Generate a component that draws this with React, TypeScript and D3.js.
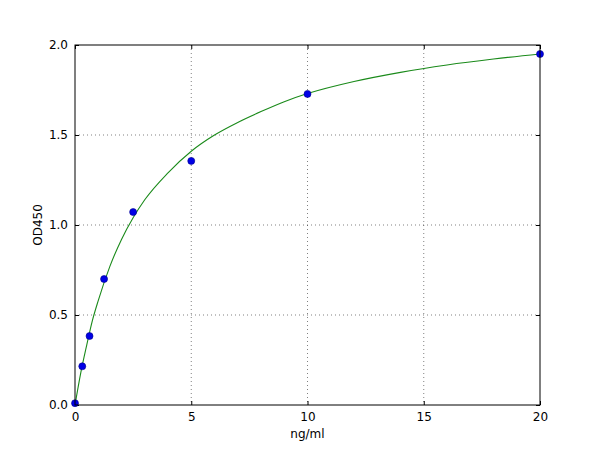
import { useEffect, useRef } from "react";
import * as d3 from "d3";

// standard points (concentration, OD)
const conc = [0, 0.3125, 0.625, 1.25, 2.5, 5, 10, 20];
const od = [0.01, 0.215, 0.383, 0.7, 1.072, 1.356, 1.728, 1.95];

// fitted curve
const fitX = [0, 0.25, 0.5, 0.75, 1, 1.5, 2, 2.5, 3, 4, 5, 6, 7, 8, 9, 10, 12, 14, 16, 18, 20];
const fitY = [0, 0.18, 0.33, 0.47, 0.58, 0.77, 0.92, 1.04, 1.14, 1.29, 1.41, 1.5, 1.57, 1.63, 1.685, 1.73, 1.797, 1.848, 1.889, 1.922, 1.95];

const xTicks = [0, 5, 10, 15, 20];
const yTicks = [0, 0.5, 1.0, 1.5, 2.0];

const W = 600;
const H = 450;
const FONT = "DejaVu Sans, sans-serif";

export default function App() {
  const svgRef = useRef<SVGSVGElement>(null);

  useEffect(() => {
    if (!svgRef.current) return;
    const margin = { top: 45, right: 60, bottom: 45, left: 75 };
    const w = W - margin.left - margin.right;
    const h = H - margin.top - margin.bottom;

    const svg = d3.select(svgRef.current);
    svg.selectAll("*").remove();

    const g = svg.append("g").attr("transform", `translate(${margin.left},${margin.top})`);

    const x = d3.scaleLinear().domain([0, 20]).range([0, w]);
    const y = d3.scaleLinear().domain([0, 2]).range([h, 0]);

    // Grid (dotted)
    g.append("g")
      .selectAll("line")
      .data(xTicks.slice(1, -1))
      .join("line")
      .attr("x1", (d) => x(d)).attr("x2", (d) => x(d))
      .attr("y1", 0).attr("y2", h)
      .attr("stroke", "#000").attr("stroke-width", 0.5).attr("stroke-dasharray", "1,3");
    g.append("g")
      .selectAll("line")
      .data(yTicks.slice(1, -1))
      .join("line")
      .attr("x1", 0).attr("x2", w)
      .attr("y1", (d) => y(d)).attr("y2", (d) => y(d))
      .attr("stroke", "#000").attr("stroke-width", 0.5).attr("stroke-dasharray", "1,3");

    // Axes with inward ticks on all sides
    const fmtY = (d: d3.NumberValue) => (d as number).toFixed(1);
    const styleAxis = (a: d3.Selection<SVGGElement, unknown, null, undefined>) => {
      a.select(".domain").remove();
      a.selectAll("line").attr("stroke", "#000");
      a.selectAll("text").style("font-family", FONT).style("font-size", "12px").style("fill", "#000");
    };
    g.append("g").attr("transform", `translate(0,${h})`)
      .call(d3.axisBottom(x).tickValues(xTicks).tickSizeInner(-4).tickSizeOuter(0).tickPadding(7))
      .call(styleAxis);
    g.append("g")
      .call(d3.axisTop(x).tickValues(xTicks).tickSizeInner(-4).tickSizeOuter(0).tickFormat(() => ""))
      .call(styleAxis);
    g.append("g")
      .call(d3.axisLeft(y).tickValues(yTicks).tickSizeInner(-4).tickSizeOuter(0).tickPadding(7).tickFormat(fmtY))
      .call(styleAxis);
    g.append("g").attr("transform", `translate(${w},0)`)
      .call(d3.axisRight(y).tickValues(yTicks).tickSizeInner(-4).tickSizeOuter(0).tickFormat(() => ""))
      .call(styleAxis);

    // Fitted curve
    const line = d3.line<number>()
      .x((d) => x(d))
      .y((_, i) => y(fitY[i]))
      .curve(d3.curveMonotoneX);
    g.append("path")
      .datum(fitX)
      .attr("d", line)
      .attr("fill", "none")
      .attr("stroke", "#1a8a1a")
      .attr("stroke-width", 1.1);

    // Points
    g.append("g")
      .selectAll("circle")
      .data(conc)
      .join("circle")
      .attr("cx", (d) => x(d))
      .attr("cy", (_, i) => y(od[i]))
      .attr("r", 3.5)
      .attr("fill", "#0000e6")
      .attr("stroke", "#00008b")
      .attr("stroke-width", 0.6);

    // Frame
    g.append("rect")
      .attr("width", w).attr("height", h)
      .attr("fill", "none").attr("stroke", "#000").attr("stroke-width", 1);

    // Axis labels
    svg.append("text")
      .attr("x", margin.left + w / 2).attr("y", 438)
      .attr("text-anchor", "middle")
      .style("font-family", FONT).style("font-size", "12px")
      .text("ng/ml");
    svg.append("text")
      .attr("transform", `translate(42,${margin.top + h / 2}) rotate(-90)`)
      .attr("text-anchor", "middle")
      .style("font-family", FONT).style("font-size", "12px")
      .text("OD450");
  }, []);

  return (
    <svg
      ref={svgRef}
      width={W}
      height={H}
      style={{ position: "absolute", left: 0, top: 0, background: "#fff" }}
    />
  );
}
